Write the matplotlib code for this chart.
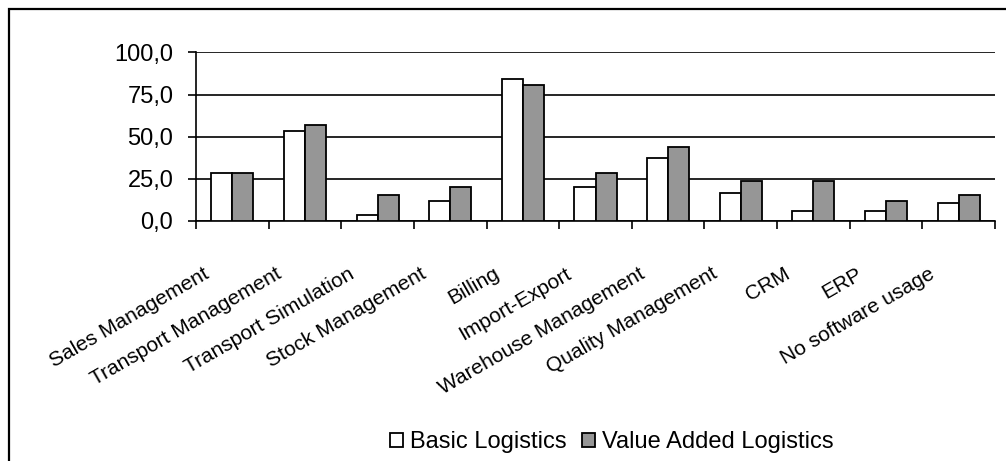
import matplotlib
matplotlib.use("Agg")
import matplotlib.pyplot as plt
from matplotlib.patches import Rectangle
from matplotlib.ticker import FuncFormatter
import matplotlib.transforms as mtransforms
import numpy as np

plt.rcParams['font.family'] = ['Liberation Sans', 'DejaVu Sans']

categories = ["Sales Management", "Transport Management", "Transport Simulation",
              "Stock Management", "Billing", "Import-Export", "Warehouse Management",
              "Quality Management", "CRM", "ERP", "No software usage"]
basic = [28.3, 53.6, 3.8, 11.9, 84.4, 20.2, 37.1, 16.7, 5.8, 5.8, 10.7]
value_added = [28.3, 56.9, 15.4, 20.2, 81.0, 28.3, 44.0, 23.6, 23.6, 11.7, 15.4]
yticks = [0, 25, 50, 75, 100]

fig = plt.figure(figsize=(10.06, 4.61), dpi=100)
ax = fig.add_axes([196 / 1006, 1 - 221 / 461, (995 - 196) / 1006, (221 - 52.5) / 461])

x = np.arange(len(categories))
w = 0.29
ax.bar(x - w / 2, basic, w, color='white', edgecolor='black', linewidth=1.3,
       label='Basic Logistics', zorder=3)
ax.bar(x + w / 2, value_added, w, color='#969696', edgecolor='black', linewidth=1.3,
       label='Value Added Logistics', zorder=3)

ax.set_xlim(-0.5, len(categories) - 0.5)
ax.set_ylim(0, 100)
ax.set_yticks(yticks)
ax.yaxis.set_major_formatter(FuncFormatter(lambda v, p: f"{v:.1f}".replace('.', ',')))
ax.tick_params(axis='y', direction='out', length=5.8, width=1.2, labelsize=17, pad=10.5)
ax.yaxis.grid(True, color='black', linewidth=1.2)
ax.set_axisbelow(True)

ax.set_xticks(x)
ax.set_xticks(np.arange(-0.5, len(categories), 1), minor=True)
ax.tick_params(axis='x', which='minor', direction='out', length=5.8, width=1.2)
ax.tick_params(axis='x', which='major', length=0, pad=31)
ax.set_xticklabels(categories, rotation=30, ha='right', va='top',
                   rotation_mode='anchor', fontsize=15)
offset = mtransforms.ScaledTranslation(-0.3, 0, fig.dpi_scale_trans)
for lab in ax.get_xticklabels():
    lab.set_transform(lab.get_transform() + offset)

for s in ['top', 'right']:
    ax.spines[s].set_visible(False)
for s in ['left', 'bottom']:
    ax.spines[s].set_linewidth(1.2)

fig.legend(loc='center', bbox_to_anchor=(612 / 1006, 1 - 442 / 461), ncol=2,
           frameon=False, fontsize=17, handlelength=0.55, handleheight=0.55,
           handletextpad=0.3, columnspacing=0.65, borderpad=0)

fig.add_artist(Rectangle((8.5 / 1006, -0.05), 1.1, 1.05 - 9.5 / 461,
                         transform=fig.transFigure, fill=False,
                         edgecolor='black', linewidth=1.6))

fig.savefig("out.png", dpi=100)
